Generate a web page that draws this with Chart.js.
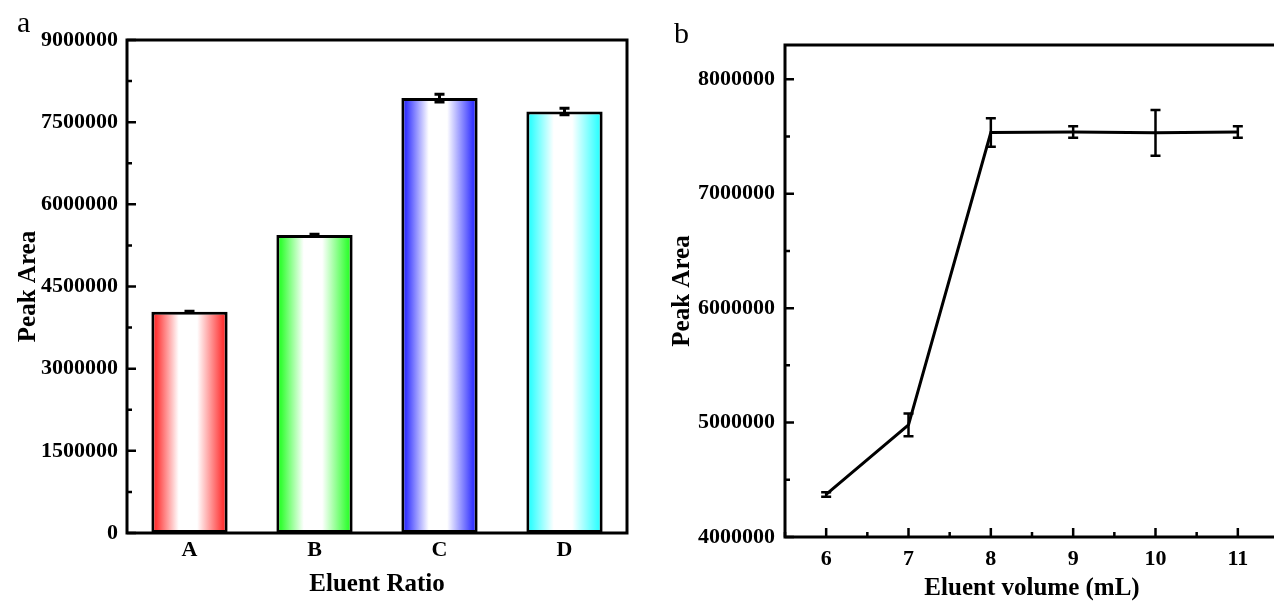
<!DOCTYPE html>
<html>
<head>
<meta charset="utf-8">
<script src="https://cdn.jsdelivr.net/npm/chart.js@4/dist/chart.umd.min.js"></script>
<style>
body { margin: 0; background: #fff; overflow: hidden; width: 1274px; height: 601px; position: relative; }
.panel { position: absolute; top: 0; }
#wrapA { left: 0; width: 640px; height: 601px; }
#wrapB { left: 640px; width: 660px; height: 606px; }
.tag { position: absolute; font-family: "Liberation Serif"; font-size: 30px; color: #000; }
</style>
</head>
<body>
<div class="panel" id="wrapA"><canvas id="chartA"></canvas></div>
<div class="panel" id="wrapB"><canvas id="chartB"></canvas></div>
<div class="tag" style="left:17px;top:5px">a</div>
<div class="tag" style="left:674px;top:16px">b</div>
<script>
// panel a
const RATIOS = ["A", "B", "C", "D"];
const PEAK_A = [4040000, 5440000, 7940000, 7695000];
const ERR_A = [10000, 12000, 70000, 60000];
const BAR_COLORS = ["#ff3535", "#33ff33", "#3535ff", "#35ffff"];
const TICKS_A = [0, 1500000, 3000000, 4500000, 6000000, 7500000, 9000000];

// panel b
const VOLUMES = [6, 7, 8, 9, 10, 11];
const PEAK_B = [4372000, 4980000, 7535000, 7540000, 7532000, 7540000];
const ERR_B = [20000, 100000, 125000, 50000, 200000, 50000];
const TICKS_B_Y = [4000000, 5000000, 6000000, 7000000, 8000000];
const TICKS_B_X = [6, 7, 8, 9, 10, 11];

const FONT = "Liberation Serif";
const tickFont = { family: FONT, size: 22, weight: "bold" };
const titleFont = { family: FONT, size: 25, weight: "bold" };
const plain = function (v) { return String(v); };

Chart.defaults.animation = false;
Chart.defaults.color = "#000";

// frame, inward ticks and error bars
const decor = {
    id: "decor",
    afterDatasetsDraw(chart, args, opts) {
        const ctx = chart.ctx;
        const a = chart.chartArea;
        const xs = chart.scales.x, ys = chart.scales.y;
        ctx.save();
        ctx.strokeStyle = "#000";
        ctx.lineCap = "butt";

        // error bars
        ctx.lineWidth = opts.errWidth;
        opts.values.forEach(function (v, i) {
            const x = opts.xs ? xs.getPixelForValue(opts.xs[i]) : xs.getPixelForValue(i);
            const y1 = ys.getPixelForValue(v + opts.errs[i]);
            const y2 = ys.getPixelForValue(v - opts.errs[i]);
            ctx.beginPath();
            ctx.moveTo(x, y1); ctx.lineTo(x, y2);
            ctx.moveTo(x - opts.cap, y1); ctx.lineTo(x + opts.cap, y1);
            ctx.moveTo(x - opts.cap, y2); ctx.lineTo(x + opts.cap, y2);
            ctx.stroke();
        });

        // ticks
        ctx.lineWidth = 2.5;
        ctx.beginPath();
        opts.yMajor.forEach(function (v) {
            const y = ys.getPixelForValue(v);
            ctx.moveTo(a.left, y); ctx.lineTo(a.left + 9, y);
        });
        opts.yMinor.forEach(function (v) {
            const y = ys.getPixelForValue(v);
            ctx.moveTo(a.left, y); ctx.lineTo(a.left + 5, y);
        });
        (opts.xMajor || []).forEach(function (v) {
            const x = xs.getPixelForValue(v);
            ctx.moveTo(x, a.bottom); ctx.lineTo(x, a.bottom - 9);
        });
        (opts.xMinor || []).forEach(function (v) {
            const x = xs.getPixelForValue(v);
            ctx.moveTo(x, a.bottom); ctx.lineTo(x, a.bottom - 5);
        });
        ctx.stroke();

        // frame
        ctx.lineWidth = 3;
        ctx.strokeRect(a.left, a.top, a.right - a.left, a.bottom - a.top);
        ctx.restore();
    },
};

function barGradient(c) {
    const chart = c.chart;
    const area = chart.chartArea;
    const col = BAR_COLORS[c.dataIndex];
    if (!area || c.type !== "data") return col;
    const cx = chart.scales.x.getPixelForValue(c.dataIndex);
    const half = (area.right - area.left) / RATIOS.length * 0.61 / 2;
    const g = chart.ctx.createLinearGradient(cx - half, 0, cx + half, 0);
    g.addColorStop(0, col);
    g.addColorStop(0.06, col);
    g.addColorStop(0.36, "#ffffff");
    g.addColorStop(0.6, "#ffffff");
    g.addColorStop(0.94, col);
    g.addColorStop(1, col);
    return g;
}

const minorA = [];
for (let v = 750000; v < 9000000; v += 1500000) minorA.push(v);
const minorBY = [];
for (let v = 4500000; v < 8300000; v += 1000000) minorBY.push(v);
const minorBX = [];
for (let v = 5.5; v <= 11.5; v += 1) minorBX.push(v);

new Chart(document.getElementById("chartA"), {
    type: "bar",
    data: {
        labels: RATIOS,
        datasets: [
            {
                label: "Peak Area",
                data: PEAK_A,
                backgroundColor: barGradient,
                borderColor: "#000",
                borderWidth: 3,
                borderSkipped: false,
                categoryPercentage: 1,
                barPercentage: 0.61,
            },
        ],
    },
    options: {
        responsive: true,
        maintainAspectRatio: false,
        layout: { padding: { left: 0, right: 13, top: 40, bottom: 0 } },
        plugins: {
            legend: { display: false },
            tooltip: { enabled: false },
            decor: { values: PEAK_A, errs: ERR_A, errWidth: 3, cap: 5, yMajor: TICKS_A, yMinor: minorA },
        },
        scales: {
            x: {
                grid: { display: false, drawTicks: false },
                border: { display: false },
                ticks: { font: tickFont, padding: 4 },
                title: { display: true, text: "Eluent Ratio", font: titleFont, padding: { top: 0, bottom: 1 } },
                afterFit(s) { s.height = 68; },
            },
            y: {
                min: 0,
                max: 9000000,
                afterBuildTicks(s) { s.ticks = TICKS_A.map(function (v) { return { value: v }; }); },
                grid: { display: false, drawTicks: false },
                border: { display: false },
                ticks: { font: tickFont, padding: 9, callback: plain },
                title: { display: true, text: "Peak Area", font: titleFont, padding: { top: 14, bottom: 0 } },
                afterFit(s) { s.width = 127; },
            },
        },
    },
    plugins: [decor],
});

new Chart(document.getElementById("chartB"), {
    type: "line",
    data: {
        datasets: [
            {
                label: "Peak Area",
                data: VOLUMES.map(function (v, i) { return { x: v, y: PEAK_B[i] }; }),
                borderColor: "#000",
                borderWidth: 3,
                pointRadius: 0,
                tension: 0,
            },
        ],
    },
    options: {
        responsive: true,
        maintainAspectRatio: false,
        layout: { padding: { left: 0, right: 21, top: 45, bottom: 0 } },
        plugins: {
            legend: { display: false },
            tooltip: { enabled: false },
            decor: {
                values: PEAK_B, errs: ERR_B, xs: VOLUMES, errWidth: 2.5, cap: 5,
                yMajor: TICKS_B_Y, yMinor: minorBY, xMajor: TICKS_B_X, xMinor: minorBX,
            },
        },
        scales: {
            x: {
                type: "linear",
                min: 5.5,
                max: 11.5,
                afterBuildTicks(s) { s.ticks = TICKS_B_X.map(function (v) { return { value: v }; }); },
                grid: { display: false, drawTicks: false },
                border: { display: false },
                ticks: { font: tickFont, padding: 9, callback: plain },
                title: { display: true, text: "Eluent volume (mL)", font: titleFont, padding: { top: 0, bottom: 2 } },
                afterFit(s) { s.height = 69; },
            },
            y: {
                min: 4000000,
                max: 8300000,
                afterBuildTicks(s) { s.ticks = TICKS_B_Y.map(function (v) { return { value: v }; }); },
                grid: { display: false, drawTicks: false },
                border: { display: false },
                ticks: { font: tickFont, padding: 10, callback: plain },
                title: { display: true, text: "Peak Area", font: titleFont, padding: { top: 28, bottom: 0 } },
                afterFit(s) { s.width = 145; },
            },
        },
    },
    plugins: [decor],
});
</script>
</body>
</html>
